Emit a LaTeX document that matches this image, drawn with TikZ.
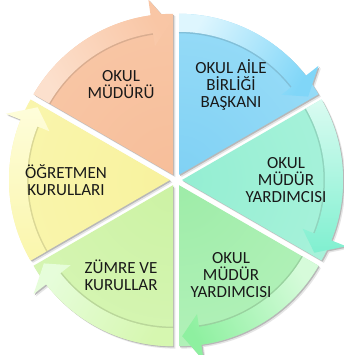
\documentclass[tikz,border=0pt]{standalone}
\usepackage{fontspec}
\setmainfont{Carlito}
\usepackage{tikz}
\usetikzlibrary{calc}
\definecolor{orA}{RGB}{247,190,154}
\definecolor{orB}{RGB}{249,206,176}
\definecolor{orC}{RGB}{252,224,205}
\definecolor{orD}{RGB}{249,198,165}
\definecolor{blA}{RGB}{128,209,244}
\definecolor{blB}{RGB}{172,229,250}
\definecolor{blC}{RGB}{222,246,254}
\definecolor{blD}{RGB}{128,214,248}
\definecolor{tqA}{RGB}{148,238,210}
\definecolor{tqB}{RGB}{186,246,226}
\definecolor{tqC}{RGB}{218,251,241}
\definecolor{tqD}{RGB}{128,240,208}
\definecolor{grA}{RGB}{158,236,168}
\definecolor{grB}{RGB}{196,246,200}
\definecolor{grC}{RGB}{214,251,218}
\definecolor{grD}{RGB}{142,240,160}
\definecolor{lgA}{RGB}{204,242,164}
\definecolor{lgB}{RGB}{222,248,192}
\definecolor{lgC}{RGB}{214,247,176}
\definecolor{lgD}{RGB}{230,253,218}
\definecolor{yeA}{RGB}{248,242,158}
\definecolor{yeB}{RGB}{251,248,186}
\definecolor{yeC}{RGB}{250,246,172}
\definecolor{yeD}{RGB}{254,253,218}
\newcommand{\Rr}{161}
\newcommand{\gap}{6}

\begin{document}
\begin{tikzpicture}[x=1pt,y=1pt,
  yazi/.style={font=\fontsize{17}{16.8}\selectfont, align=center, text=black!90, inner sep=0pt}]
  \useasboundingbox[fill=white] (-176,-175) rectangle (167,180);
  \foreach \s in {150,90,30,-30,-90,-150} {
    \pgfmathsetmacro\e{\s-60}
    \pgfmathsetmacro\b{\s-30}
    \pgfmathsetmacro\h{\e+8}
    \pgfmathsetmacro\t{\e+1.2}
    \fill[black!10, shift={(\b:\gap)}, xshift=2.4, yshift=-2.4] (0,0) -- (\s:\Rr) arc[start angle=\s, end angle=\e, radius=\Rr] -- cycle;
    \fill[black!10, shift={(\b:\gap)}, xshift=2.4, yshift=-2.4] (\h:130) -- (\t:151) -- (\h:177) -- cycle;
    \fill[black!28, shift={(\b:\gap)}, xshift=1.2, yshift=-1.2] (0,0) -- (\s:\Rr) arc[start angle=\s, end angle=\e, radius=\Rr] -- cycle;
    \fill[black!28, shift={(\b:\gap)}, xshift=1.2, yshift=-1.2] (\h:130) -- (\t:151) -- (\h:177) -- cycle;
  }
  \foreach \s/\nm/\ci/\co/\ba/\bb/\txt in {
    150/mudur/orA/orB/orC/orD/{OKUL\\MÜDÜRÜ},
    90/aile/blA/blB/blC/blD/{OKUL AİLE\\BİRLİĞİ\\BAŞKANI},
    30/yardimci/tqA/tqB/tqC/tqD/{OKUL\\MÜDÜR\\YARDIMCISI},
    -30/yardimciB/grA/grB/grC/grD/{OKUL\\MÜDÜR\\YARDIMCISI},
    -90/zumre/lgA/lgB/lgC/lgD/{ZÜMRE VE\\KURULLAR},
    -150/ogretmen/yeA/yeB/yeC/yeD/{ÖĞRETMEN\\KURULLARI}} {
    \pgfmathsetmacro\e{\s-60}
    \pgfmathsetmacro\b{\s-30}
    \pgfmathsetmacro\h{\e+8}
    \pgfmathsetmacro\t{\e+1.2}
    \begin{scope}[shift={(\b:\gap)}]
      \begin{scope}
        \clip (0,0) -- (\s:\Rr) arc[start angle=\s, end angle=\e, radius=\Rr] -- cycle;
        \shade[inner color=\ci, outer color=\co] (0,0) circle (320);
      \end{scope}
      \draw[black, opacity=0.12, line width=2] (\s:142.5) arc[start angle=\s, end angle=\h, radius=142.5];
      \shade[left color=\ba, right color=\bb, shading angle=\b] (\s:143) arc[start angle=\s, end angle=\h, radius=143] -- (\h:130) -- (\t:151) -- (\h:177) -- (\h:\Rr) arc[start angle=\h, end angle=\s, radius=\Rr] -- cycle;
      \node[yazi] (\nm) at (\b:104) {\txt};
    \end{scope}
  }
\end{tikzpicture}
\end{document}
